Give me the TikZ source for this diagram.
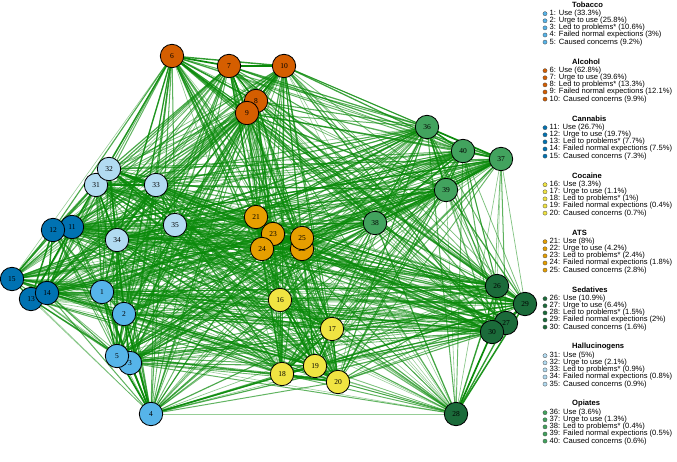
\documentclass[tikz,border=0pt]{standalone}
\usepackage{fontspec}
\setmainfont{Liberation Serif}
\newfontfamily\legendfont{Liberation Sans}
\usetikzlibrary{backgrounds}

\definecolor{tobacco}{HTML}{56B4E9}
\definecolor{alcohol}{HTML}{D55E00}
\definecolor{cannabis}{HTML}{0072B2}
\definecolor{cocaine}{HTML}{F0E442}
\definecolor{ats}{HTML}{E69F00}
\definecolor{sedatives}{HTML}{1B6B3A}
\definecolor{hallucinogens}{HTML}{B2DBF1}
\definecolor{opiates}{HTML}{42A35E}
\definecolor{edgegreen}{HTML}{0A8A0A}

\tikzset{
  item/.style={circle, draw=black, line width=0.8pt, minimum size=23.4pt, inner sep=0pt, font=\fontsize{7.5}{8}\selectfont},
  link/.style={edgegreen, line cap=round},
  keydot/.style={circle, draw=black!70, line width=0.3pt, minimum size=4.2pt, inner sep=0pt},
  keytext/.style={anchor=west, inner sep=0pt, font=\legendfont\fontsize{7.6}{8}\selectfont},
  keytitle/.style={anchor=west, inner sep=0pt, font=\legendfont\bfseries\fontsize{7.6}{8}\selectfont}
}

\begin{document}
\begin{tikzpicture}[x=1pt, y=-1pt]

\useasboundingbox (0,0) rectangle (677,462);

\foreach \n/\px/\py/\c in {
  1/102/292/tobacco, 2/124/314/tobacco, 3/130/363/tobacco, 4/151/414/tobacco, 5/117/356/tobacco,
  6/172/56/alcohol, 7/229/66/alcohol, 8/256/101/alcohol, 9/247/113/alcohol, 10/284/66/alcohol,
  11/72/227/cannabis, 12/53/230/cannabis, 13/31/299/cannabis, 14/47/293/cannabis, 15/12/279/cannabis,
  16/280/300/cocaine, 17/332/329/cocaine, 18/282/374/cocaine, 19/315/366/cocaine, 20/338/382/cocaine,
  21/256/217/ats, 22/302/249/ats, 23/273/234/ats, 24/262/249/ats, 25/302/238/ats,
  26/497/286/sedatives, 27/506/323/sedatives, 28/456/414/sedatives, 29/525/304/sedatives, 30/492/332/sedatives,
  31/96/185/hallucinogens, 32/109/169/hallucinogens, 33/156/185/hallucinogens, 34/117/240/hallucinogens, 35/175/225/hallucinogens,
  36/427/127/opiates, 37/501/159/opiates, 38/375/223/opiates, 39/446/190/opiates, 40/463/151/opiates}
  \node[item, fill=\c] (n\n) at (\px,\py) {\n};

\begin{pgfonlayer}{background}
\foreach \i in {1,...,39}{
  \pgfmathtruncatemacro\first{\i+1}
  \foreach \j in {\first,...,40}{
    \pgfmathtruncatemacro\gi{(\i-1)/5}
    \pgfmathtruncatemacro\gj{(\j-1)/5}
    \pgfmathtruncatemacro\ki{mod(\i-1,5)}
    \pgfmathtruncatemacro\kj{mod(\j-1,5)}
    \pgfmathtruncatemacro\h{mod(\i*7+\j*13+\i*\j*3,13)}
    \pgfmathsetmacro\w{ifthenelse(\gi==\gj, 0.75+0.25*\h/12, ifthenelse(\ki==\kj, 0.45+0.3*\h/12, 0.12+0.5*\h/12))}
    \pgfmathsetmacro\op{0.35+0.65*\w}
    \pgfmathsetmacro\lw{0.4+1.3*\w}
    \draw[link, line width=\lw pt, draw opacity=\op] (n\i.center) -- (n\j.center);
  }
}
\end{pgfonlayer}

\foreach \g/\name/\c/\pa/\pb/\pc/\pd/\pe in {
  0/Tobacco/tobacco/33.3/25.8/10.6/3/9.2,
  1/Alcohol/alcohol/62.8/39.6/13.3/12.1/9.9,
  2/Cannabis/cannabis/26.7/19.7/7.7/7.5/7.3,
  3/Cocaine/cocaine/3.3/1.1/1/0.4/0.7,
  4/ATS/ats/8/4.2/2.4/1.8/2.8,
  5/Sedatives/sedatives/10.9/6.4/1.5/2/1.6,
  6/Hallucinogens/hallucinogens/5/2.1/0.9/0.8/0.9,
  7/Opiates/opiates/3.6/1.3/0.4/0.5/0.6}{
  \pgfmathsetmacro\ty{5+57*\g}
  \node[keytitle] (title\g) at (572,\ty) {\name};
  \foreach \k/\txt/\p in {1/Use/\pa, 2/Urge to use/\pb, 3/Led to problems*/\pc, 4/Failed normal expections/\pd, 5/Caused concerns/\pe}{
    \pgfmathtruncatemacro\n{5*\g+\k}
    \pgfmathsetmacro\ky{\ty+8.7+7.1*(\k-1)}
    \node[keydot, fill=\c] (key\n) at (545,\ky) {};
    \node[keytext] (label\n) at (549.5,\ky) {\n: \txt{} (\p\%)};
  }
}

\end{tikzpicture}
\end{document}
